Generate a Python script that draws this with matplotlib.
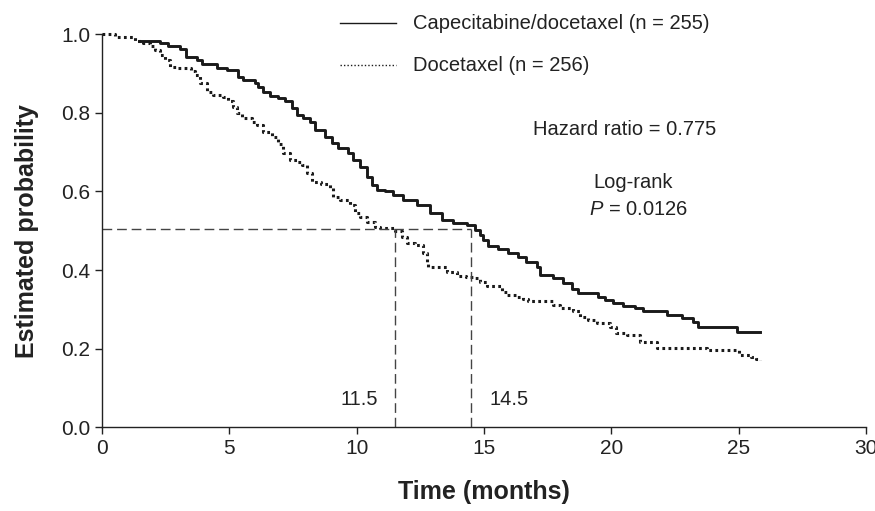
import matplotlib
matplotlib.use("Agg")
import matplotlib.pyplot as plt

plt.rcParams['font.family'] = ['Liberation Sans', 'DejaVu Sans']
plt.rcParams['mathtext.fontset'] = 'custom'
plt.rcParams['mathtext.rm'] = 'Liberation Sans'
plt.rcParams['mathtext.it'] = 'Liberation Sans:italic'

# Capecitabine/docetaxel arm (step times in months, estimated probability)
cd_time = [1.45, 2.28, 2.6, 3.05, 3.3, 3.72, 3.91, 4.5, 4.9, 5.35, 5.55, 6.0,
           6.14, 6.33, 6.6, 6.92, 7.18, 7.45, 7.64, 7.9, 8.17, 8.36, 8.75,
           9.02, 9.28, 9.67, 9.87, 10.13, 10.39, 10.59, 10.78, 11.1, 11.44,
           11.83, 12.36, 12.88, 13.34, 13.8, 14.32, 14.64, 14.84, 14.97,
           15.17, 15.56, 15.95, 16.35, 16.67, 17.07, 17.2, 17.72, 18.11,
           18.44, 18.7, 19.49, 19.75, 20.08, 20.47, 20.93, 21.25, 22.17,
           22.76, 23.2, 23.41, 24.95, 25.85]
cd_surv = [0.983, 0.977, 0.971, 0.963, 0.943, 0.935, 0.924, 0.915, 0.909,
           0.892, 0.884, 0.875, 0.867, 0.854, 0.844, 0.837, 0.829, 0.812,
           0.795, 0.786, 0.778, 0.756, 0.739, 0.723, 0.71, 0.697, 0.68,
           0.663, 0.638, 0.617, 0.604, 0.6, 0.591, 0.578, 0.566, 0.545,
           0.527, 0.521, 0.515, 0.502, 0.489, 0.477, 0.461, 0.453, 0.444,
           0.433, 0.421, 0.407, 0.388, 0.379, 0.368, 0.351, 0.342, 0.331,
           0.324, 0.316, 0.309, 0.303, 0.297, 0.286, 0.277, 0.269, 0.256,
           0.243, 0.243]

# Docetaxel arm
d_time = [0, 0.5, 1.3, 1.6, 1.88, 2.1, 2.28, 2.47, 2.67, 3.0, 3.5, 3.65,
          3.85, 4.11, 4.37, 4.75, 4.96, 5.16, 5.3, 5.5, 5.9, 6.1, 6.34,
          6.67, 6.9, 7.12, 7.38, 7.65, 7.84, 8.04, 8.24, 8.6, 8.96, 9.09,
          9.35, 9.74, 9.94, 10.13, 10.4, 10.72, 10.92, 11.51, 11.77, 11.97,
          12.3, 12.6, 12.75, 12.82, 13.54, 13.93, 14.3, 14.58, 14.85, 15.1,
          15.69, 15.89, 16.28, 16.55, 16.74, 17.73, 17.99, 18.51, 18.77,
          19.1, 19.42, 19.95, 20.2, 20.6, 21.13, 21.8, 23.75, 25.0, 25.5,
          25.7, 25.85]
d_surv = [1.0, 0.994, 0.983, 0.977, 0.97, 0.96, 0.947, 0.935, 0.918, 0.913,
          0.907, 0.896, 0.875, 0.854, 0.846, 0.841, 0.83, 0.816, 0.799,
          0.786, 0.778, 0.769, 0.752, 0.739, 0.72, 0.697, 0.68, 0.676,
          0.667, 0.646, 0.625, 0.619, 0.608, 0.587, 0.578, 0.566, 0.545,
          0.536, 0.523, 0.51, 0.506, 0.5, 0.485, 0.468, 0.464, 0.443,
          0.421, 0.409, 0.396, 0.385, 0.383, 0.379, 0.37, 0.36, 0.345,
          0.337, 0.332, 0.326, 0.321, 0.311, 0.303, 0.297, 0.281, 0.273,
          0.265, 0.256, 0.239, 0.235, 0.216, 0.201, 0.197, 0.184, 0.18,
          0.174, 0.171]

median_level = 0.505
median_d = 11.5
median_cd = 14.5
labels = ['Capecitabine/docetaxel (n = 255)', 'Docetaxel (n = 256)']

fig = plt.figure(figsize=(8.75, 5.11), dpi=100)
ax = fig.add_axes([0.1166, 0.1638, 0.873, 0.7691])

dotted = (0, (0.9, 1.1))
ax.plot(d_time, d_surv, drawstyle='steps-post', color='#1a1a1a', lw=2.2,
        linestyle=dotted, clip_on=False)
ax.plot(cd_time, cd_surv, drawstyle='steps-post', color='#1a1a1a', lw=2.1,
        clip_on=False)

# median lines
dash = (0, (7, 3.5))
ax.plot([0, median_cd], [median_level, median_level], color='#444444',
        lw=1.0, linestyle=dash)
ax.plot([median_d, median_d], [0, median_level], color='#444444', lw=1.0,
        linestyle=dash)
ax.plot([median_cd, median_cd], [0, median_level], color='#444444', lw=1.0,
        linestyle=dash)
ax.text(median_d - 0.66, 0.07, '11.5', ha='right', va='center', fontsize=14.5,
        color='#222222')
ax.text(median_cd + 0.7, 0.07, '14.5', ha='left', va='center', fontsize=14.5,
        color='#222222')

# legend drawn by hand
ax.plot([9.35, 11.55], [1.028, 1.028], color='#1a1a1a', lw=1.0, clip_on=False)
ax.plot([9.35, 11.55], [0.921, 0.921], color='#1a1a1a', lw=1.0,
        linestyle=(0, (1, 1.5)), clip_on=False)
ax.text(12.21, 1.028, labels[0], ha='left', va='center', fontsize=14.5,
        color='#222222')
ax.text(12.21, 0.921, labels[1], ha='left', va='center', fontsize=14.5,
        color='#222222')

ax.text(16.93, 0.757, 'Hazard ratio = 0.775', ha='left', va='center',
        fontsize=14.5, color='#222222')
ax.text(19.28, 0.624, 'Log-rank', ha='left', va='center', fontsize=14.5,
        color='#222222')
ax.text(19.13, 0.555, r'$P$ = 0.0126', ha='left', va='center', fontsize=14.5,
        color='#222222')

ax.set_xlim(0, 30)
ax.set_ylim(0, 1.0)
ax.set_xticks([0, 5, 10, 15, 20, 25, 30])
ax.set_yticks([0.0, 0.2, 0.4, 0.6, 0.8, 1.0])
ax.set_yticklabels(['0.0', '0.2', '0.4', '0.6', '0.8', '1.0'])
ax.tick_params(labelsize=15, length=5, width=1.0, color='#222222',
               labelcolor='#222222', direction='out')
for side in ['top', 'right']:
    ax.spines[side].set_visible(False)
for side in ['left', 'bottom']:
    ax.spines[side].set_linewidth(1.0)
    ax.spines[side].set_color('#222222')

ax.set_xlabel('Time (months)', fontsize=18, fontweight='bold', labelpad=16,
              color='#222222')
ax.set_ylabel('Estimated probability', fontsize=18, fontweight='bold',
              labelpad=16, color='#222222')

fig.savefig('out.png', dpi=100)
